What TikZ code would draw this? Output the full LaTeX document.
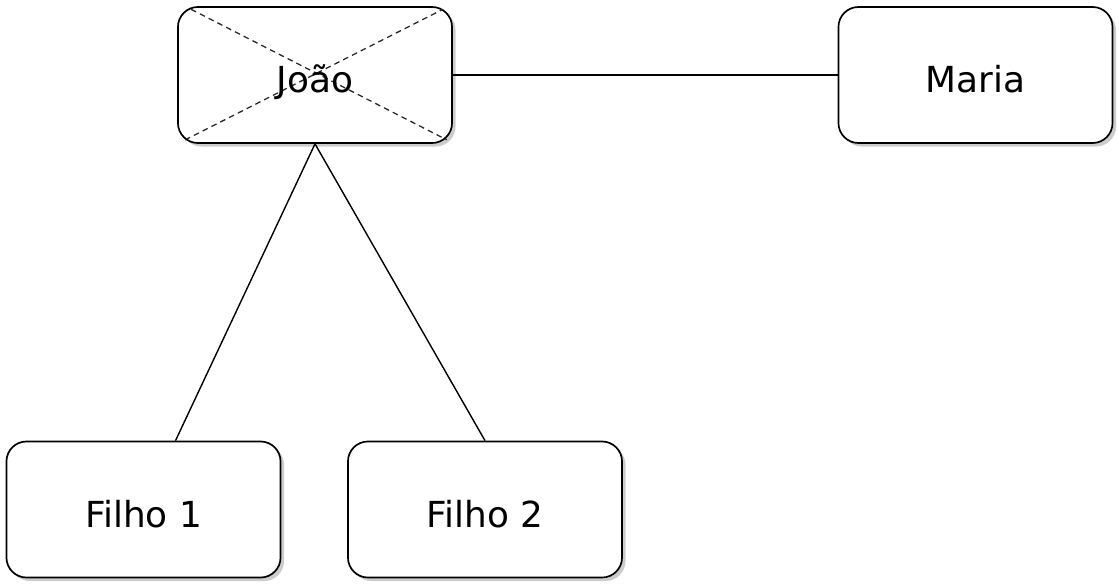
\documentclass[tikz,border=0pt]{standalone}
\usepackage{fontspec}
\setmainfont{DejaVu Sans}
\usetikzlibrary{shadows}

\tikzset{
    person/.style={draw, line width=1.2pt, rounded corners=0.5cm, fill=white,
        minimum width=6.85cm, minimum height=3.4cm, inner sep=0pt,
        font=\fontsize{25.5}{30}\selectfont, text height=25pt, text depth=0pt,
        drop shadow={shadow xshift=2.5pt, shadow yshift=-2.5pt, fill=black!40, opacity=0.5}},
    personname/.style={font=\fontsize{25.5}{30}\selectfont, text height=25pt, text depth=0pt, inner sep=0pt},
    link/.style={line width=1pt},
}

\begin{document}
\begin{tikzpicture}[x=0.025cm, y=-0.025cm]
    \useasboundingbox (0, 0) rectangle (1119, 585);
    \node [person] (joao) at (315, 75) {};
    \draw [dash pattern=on 4pt off 3pt, line width=0.9pt, black!85]
        ([shift={(0.35cm,-0.08cm)}]joao.north west) -- ([shift={(-0.15cm,0.1cm)}]joao.south east)
        ([shift={(0.2cm,0.1cm)}]joao.south west) -- ([shift={(-0.25cm,-0.08cm)}]joao.north east);
    \node [personname] (joaoname) at (joao) {João};
    \node [person] (maria) at (975.5, 75) {Maria};
    \node [person] (filho1) at (143.5, 509.5) {Filho 1};
    \node [person] (filho2) at (485, 509.5) {Filho 2};

    \draw [link] (joao.east) -- (maria.west);
    \draw [link] (joao.south) -- ([xshift=0.8cm]filho1.north);
    \draw [link] (joao.south) -- (filho2.north);
\end{tikzpicture}
\end{document}
